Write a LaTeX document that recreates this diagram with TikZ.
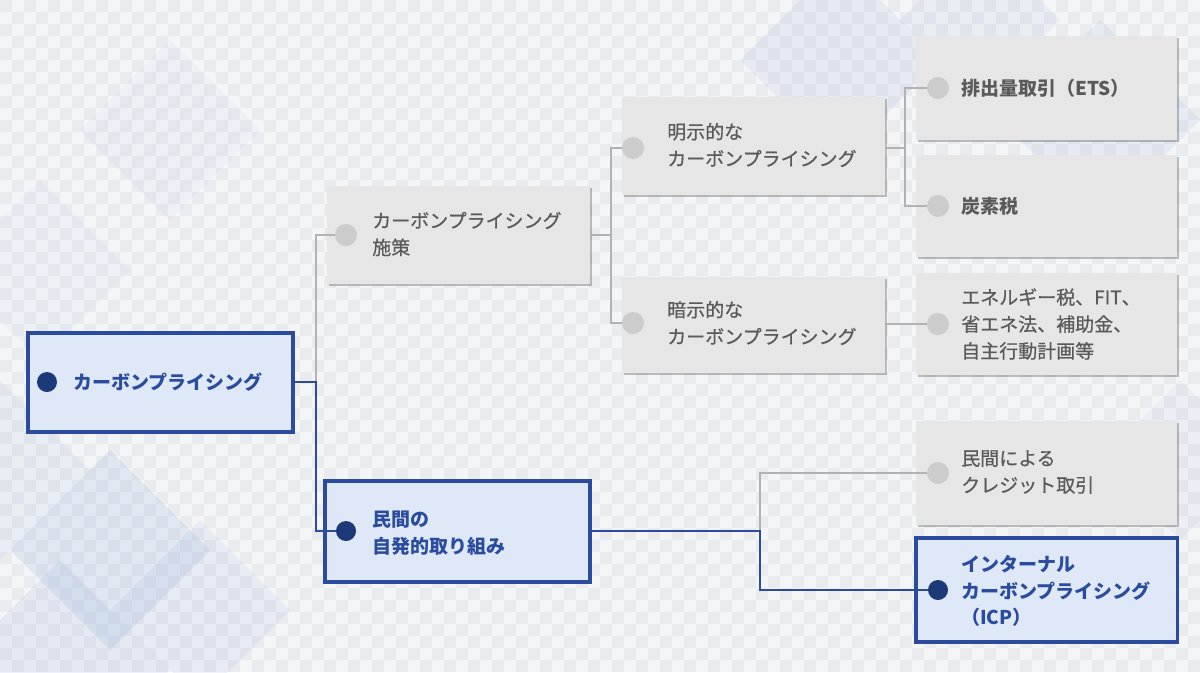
\documentclass[tikz,border=0pt]{standalone}
\usepackage{fontspec}
\setmainfont{Noto Sans CJK JP}
\newfontfamily\jpmed{Noto Sans CJK JP}[FakeBold=0.6]
\usetikzlibrary{shadows}
\definecolor{bgA}{HTML}{F4F5F7}
\definecolor{bgB}{HTML}{EAEBEE}
\definecolor{navy}{HTML}{2B4C9E}
\definecolor{navydot}{HTML}{1C3978}
\definecolor{lightblue}{HTML}{DFE8F6}
\definecolor{boxgray}{HTML}{E6E6E6}
\definecolor{dotgray}{HTML}{CCCCCC}
\definecolor{linegray}{HTML}{B2B2B2}
\definecolor{txtgray}{HTML}{5A5A5A}
\definecolor{diam}{HTML}{9DB6E0}
\begin{document}
\begin{tikzpicture}[x=0.025cm,y=-0.025cm,
  graybox/.style={rectangle,fill=boxgray,draw=none,inner sep=0pt,
    drop shadow={shadow xshift=0.06cm,shadow yshift=-0.06cm,opacity=0.45,fill=black!55}},
  bluebox/.style={rectangle,fill=lightblue,draw=navy,line width=2.2pt,inner sep=0pt,
    drop shadow={shadow xshift=0.05cm,shadow yshift=-0.05cm,opacity=0.25,fill=black!50}},
  graydot/.style={circle,fill=dotgray,draw=none,minimum size=0.55cm,inner sep=0pt},
  bluedot/.style={circle,fill=navydot,draw=none,minimum size=0.5cm,inner sep=0pt},
  graytxt/.style={anchor=west,align=left,inner sep=0pt,text=txtgray,font=\fontsize{13.5}{19.1}\selectfont\jpmed},
  bluetxt/.style={anchor=west,align=left,inner sep=0pt,text=navy,font=\fontsize{13.5}{19.1}\selectfont\bfseries},
  grayline/.style={draw=linegray,line width=1.2pt},
  blueline/.style={draw=navy,line width=2pt}]
\useasboundingbox (0,0) rectangle (1200,672);
% background
\fill[bgA] (0,0) rectangle (1200,672);
\foreach \j in {0,...,55}{
  \pgfmathtruncatemacro{\off}{mod(\j,2)*12}
  \foreach \i in {0,24,...,1188}{
    \fill[bgB] (\i+\off,\j*12) rectangle ++(12,12);
  }
}
% faint blue diamonds
\begin{scope}[fill=diam]
\fill[opacity=0.22] (110,450) -- (210,550) -- (110,650) -- (10,550) -- cycle;
\fill[opacity=0.18] (60,560) -- (170,670) -- (60,780) -- (-50,670) -- cycle;
\fill[opacity=0.15] (200,520) -- (290,610) -- (200,700) -- (110,610) -- cycle;
\fill[opacity=0.12] (0,380) -- (90,470) -- (0,560) -- (-90,470) -- cycle;
\fill[opacity=0.08] (170,40) -- (260,130) -- (170,220) -- (80,130) -- cycle;
\fill[opacity=0.07] (40,180) -- (130,270) -- (40,360) -- (-50,270) -- cycle;
\fill[opacity=0.16] (840,-40) -- (940,60) -- (840,160) -- (740,60) -- cycle;
\fill[opacity=0.16] (1100,20) -- (1200,120) -- (1100,220) -- (1000,120) -- cycle;
\fill[opacity=0.12] (980,-60) -- (1060,20) -- (980,100) -- (900,20) -- cycle;
\fill[opacity=0.10] (1180,380) -- (1260,460) -- (1180,540) -- (1100,460) -- cycle;
\end{scope}
\coordinate (j1) at (316,382);
\coordinate (j2) at (611,235);
\coordinate (j3) at (905,148);
\coordinate (j4) at (760,531);
% boxes
\node[bluebox,minimum width=6.625cm,minimum height=2.475cm] (root) at (160.5,382.5) {};
\node[graybox,minimum width=6.575cm,minimum height=2.45cm] (shisaku) at (458.5,235) {};
\node[graybox,minimum width=6.575cm,minimum height=2.45cm] (meiji) at (753.5,146) {};
\node[graybox,minimum width=6.575cm,minimum height=2.4cm] (anji) at (753.5,325) {};
\node[graybox,minimum width=6.525cm,minimum height=2.6cm] (ets) at (1046.5,88) {};
\node[graybox,minimum width=6.525cm,minimum height=2.55cm] (tanso) at (1046.5,206) {};
\node[graybox,minimum width=6.525cm,minimum height=2.55cm] (ene) at (1046.5,324) {};
\node[bluebox,minimum width=6.625cm,minimum height=2.525cm] (minkan) at (457.5,531.5) {};
\node[graybox,minimum width=6.525cm,minimum height=2.6cm] (credit) at (1046.5,473) {};
\node[bluebox,minimum width=6.525cm,minimum height=2.6cm] (icp) at (1046.5,590) {};
% dots
\node[bluedot] (d-root) at (47,382) {};
\node[graydot] (d-shisaku) at (346,235) {};
\node[graydot] (d-meiji) at (633,148) {};
\node[graydot] (d-anji) at (633,323) {};
\node[graydot] (d-ets) at (938,88) {};
\node[graydot] (d-tanso) at (938,206) {};
\node[graydot] (d-ene) at (938,324) {};
\node[bluedot] (d-minkan) at (346,531) {};
\node[graydot] (d-credit) at (938,473) {};
\node[bluedot] (d-icp) at (938,590) {};
% connectors
\draw[grayline] (j1) |- (d-shisaku.west);
\draw[grayline] (shisaku.east |- j2) -- (j2);
\draw[grayline] (j2) |- (d-meiji.west);
\draw[grayline] (j2) |- (d-anji.west);
\draw[grayline] (meiji.east |- j3) -- (j3);
\draw[grayline] (j3) |- (d-ets.west);
\draw[grayline] (j3) |- (d-tanso.west);
\draw[grayline] (anji.east |- d-ene) -- (d-ene.west);
\draw[grayline] (j4) |- (d-credit.west);
\draw[blueline] (root.east |- j1) -- (j1) |- (d-minkan.west);
\draw[blueline] (minkan.east |- j4) -- (j4) |- (d-icp.west);
% texts
\node[bluetxt] (t-root) at (73,382) {カーボンプライシング};
\node[graytxt] (t-shisaku) at (372,234) {カーボンプライシング\\施策};
\node[graytxt] (t-meiji) at (667,145) {明示的な\\カーボンプライシング};
\node[graytxt] (t-anji) at (667,323) {暗示的な\\カーボンプライシング};
\node[graytxt,font=\fontsize{13.5}{19.1}\selectfont\bfseries] (t-ets) at (961,88) {排出量取引（ETS）};
\node[graytxt,font=\fontsize{13.5}{19.1}\selectfont\bfseries] (t-tanso) at (961,206) {炭素税};
\node[graytxt] (t-ene) at (961,324) {エネルギー税、FIT、\\省エネ法、補助金、\\自主行動計画等};
\node[bluetxt] (t-minkan) at (372,533) {民間の\\自発的取り組み};
\node[graytxt] (t-credit) at (961,472) {民間による\\クレジット取引};
\node[bluetxt] (t-icp) at (961,591) {インターナル\\カーボンプライシング\\（ICP）};
\end{tikzpicture}
\end{document}
